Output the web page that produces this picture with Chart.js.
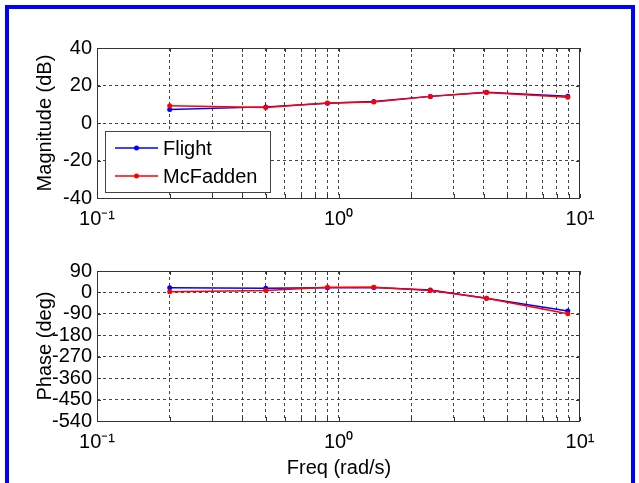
<!DOCTYPE html>
<html>
<head>
<meta charset="utf-8">
<script src="https://cdn.jsdelivr.net/npm/chart.js@4.4.1/dist/chart.umd.min.js"></script>
<style>
  html, body { margin: 0; padding: 0; background: #fff; }
  body { width: 639px; height: 483px; position: relative; overflow: hidden; font-family: "Liberation Sans", Arial, sans-serif; }
  #frame { position: absolute; left: 5px; top: 5px; width: 630px; height: 520px; border: 4px solid #0000ff; box-sizing: border-box; }
  .wrap { position: absolute; left: 0; width: 639px; }
  .ytitle { position: absolute; font-size: 20px; color: #000; white-space: nowrap; transform: translate(-50%, -50%) rotate(-90deg); }
  .xtitle { position: absolute; font-size: 20px; color: #000; white-space: nowrap; transform: translate(-50%, -50%); }
</style>
</head>
<body>
<div id="frame"></div>
<div class="wrap" style="top:0;height:240px"><canvas id="magChart" width="639" height="240"></canvas></div>
<div class="wrap" style="top:240px;height:243px"><canvas id="phaseChart" width="639" height="243"></canvas></div>
<div class="ytitle" style="left:44px;top:123px">Magnitude (dB)</div>
<div class="ytitle" style="left:44px;top:346px">Phase (deg)</div>
<div class="xtitle" style="left:339px;top:467px">Freq (rad/s)</div>
<script>
// frequency points (rad/s)
const freq = [0.2, 0.5, 0.9, 1.4, 2.4, 4.1, 8.9];

// magnitude (dB)
const flightMag = [7.2, 8.6, 10.5, 11.5, 14.2, 16.4, 14.3];
const mcfaddenMag = [9.2, 8.3, 10.7, 11.2, 14.2, 16.3, 13.7];

// phase (deg)
const flightPhase = [20, 18, 20, 21, 10, -24, -78];
const mcfaddenPhase = [3, 8, 22, 22, 8, -24, -90];

const freqTicks = [0.1, 0.2, 0.3, 0.4, 0.5, 0.6, 0.7, 0.8, 0.9, 1, 2, 3, 4, 5, 6, 7, 8, 9, 10];
const decadeLabels = { 0.1: "10\u207B\u00B9", 1: "10\u2070", 10: "10\u00B9" };
const magTicks = [-40, -20, 0, 20, 40];
const phaseTicks = [-540, -450, -360, -270, -180, -90, 0, 90];

const FONT = { family: "'Liberation Sans', Arial, sans-serif", size: 20 };
const GRID = "#444";

const toPoints = (ys) => freq.map((f, i) => ({ x: f, y: ys[i] }));

// interior grid lines only, the box is drawn separately
const innerGrid = (n) => (c) => (c.index === 0 || c.index === n - 1) ? "rgba(0,0,0,0)" : GRID;

// solid box with small inward ticks
const boxPlugin = {
  id: "box",
  afterDraw(chart) {
    const { ctx, chartArea: a, scales } = chart;
    ctx.save();
    ctx.setLineDash([]);
    ctx.strokeStyle = "#333";
    ctx.lineWidth = 1;
    ctx.beginPath();
    scales.x.ticks.forEach((t) => {
      const px = Math.round(scales.x.getPixelForValue(t.value)) + 0.5;
      ctx.moveTo(px, a.top); ctx.lineTo(px, a.top + 4);
      ctx.moveTo(px, a.bottom); ctx.lineTo(px, a.bottom - 4);
    });
    scales.y.ticks.forEach((t) => {
      const py = Math.round(scales.y.getPixelForValue(t.value)) + 0.5;
      ctx.moveTo(a.left, py); ctx.lineTo(a.left + 4, py);
      ctx.moveTo(a.right, py); ctx.lineTo(a.right - 4, py);
    });
    ctx.stroke();
    ctx.strokeRect(Math.round(a.left) + 0.5, Math.round(a.top) + 0.5,
      Math.round(a.right - a.left) - 1, Math.round(a.bottom - a.top));
    ctx.restore();
  }
};

// boxed legend in the lower left of the magnitude plot
const legendPlugin = {
  id: "boxLegend",
  afterDraw(chart) {
    const { ctx } = chart;
    const x0 = 105, y0 = 131, w = 165, h = 61;
    ctx.save();
    ctx.setLineDash([]);
    ctx.fillStyle = "#fff";
    ctx.fillRect(x0, y0, w, h);
    ctx.strokeStyle = "#444";
    ctx.lineWidth = 1;
    ctx.strokeRect(x0 + 0.5, y0 + 0.5, w, h);
    ctx.font = "20px 'Liberation Sans', Arial, sans-serif";
    ctx.textBaseline = "middle";
    const rows = [148, 176];
    chart.data.datasets.forEach((ds, i) => {
      const y = rows[i];
      ctx.strokeStyle = ds.borderColor;
      ctx.lineWidth = 1.5;
      ctx.beginPath();
      ctx.moveTo(115, y); ctx.lineTo(158, y);
      ctx.stroke();
      ctx.fillStyle = ds.borderColor;
      ctx.beginPath();
      ctx.arc(136.5, y, 2.5, 0, Math.PI * 2);
      ctx.fill();
      ctx.fillStyle = "#000";
      ctx.fillText(ds.label, 163, y + 1);
    });
    ctx.restore();
  }
};

function makeChart(id, flight, mcf, yTicks, pad, xHeight, extraPlugins) {
  return new Chart(document.getElementById(id).getContext("2d"), {
    type: "line",
    data: {
      datasets: [
        {
          label: "Flight",
          data: toPoints(flight),
          borderColor: "#0000ff",
          backgroundColor: "#0000ff",
          borderWidth: 1.5,
          pointRadius: 2.5,
          pointBorderWidth: 0,
          order: 2,
        },
        {
          label: "McFadden",
          data: toPoints(mcf),
          borderColor: "#ff0000",
          backgroundColor: "#ff0000",
          borderWidth: 1.5,
          pointRadius: 2.5,
          pointBorderWidth: 0,
          order: 1,
        },
      ],
    },
    options: {
      responsive: false,
      animation: false,
      devicePixelRatio: 1,
      layout: { padding: pad },
      plugins: { legend: { display: false }, tooltip: { enabled: false } },
      scales: {
        x: {
          type: "logarithmic",
          min: 0.1,
          max: 10,
          afterBuildTicks: (s) => { s.ticks = freqTicks.map((v) => ({ value: v })); },
          afterFit: (s) => { s.height = xHeight; },
          ticks: {
            autoSkip: false,
            maxRotation: 0,
            padding: 9,
            color: "#000",
            font: FONT,
            callback: (v) => decadeLabels[v] || "",
          },
          grid: { color: innerGrid(freqTicks.length), drawTicks: false, lineWidth: 1 },
          border: { display: false, dash: [3, 3] },
        },
        y: {
          min: yTicks[0],
          max: yTicks[yTicks.length - 1],
          afterBuildTicks: (s) => { s.ticks = yTicks.map((v) => ({ value: v })); },
          afterFit: (s) => { s.width = 97; },
          ticks: { padding: 5, color: "#000", font: FONT, autoSkip: false },
          grid: { color: innerGrid(yTicks.length), drawTicks: false, lineWidth: 1 },
          border: { display: false, dash: [3, 3] },
        },
      },
    },
    plugins: [boxPlugin].concat(extraPlugins),
  });
}

makeChart("magChart", flightMag, mcfaddenMag, magTicks, { top: 48, right: 59, left: 0, bottom: 0 }, 42, [legendPlugin]);
makeChart("phaseChart", flightPhase, mcfaddenPhase, phaseTicks, { top: 31, right: 59, left: 0, bottom: 0 }, 62, []);
</script>
</body>
</html>
